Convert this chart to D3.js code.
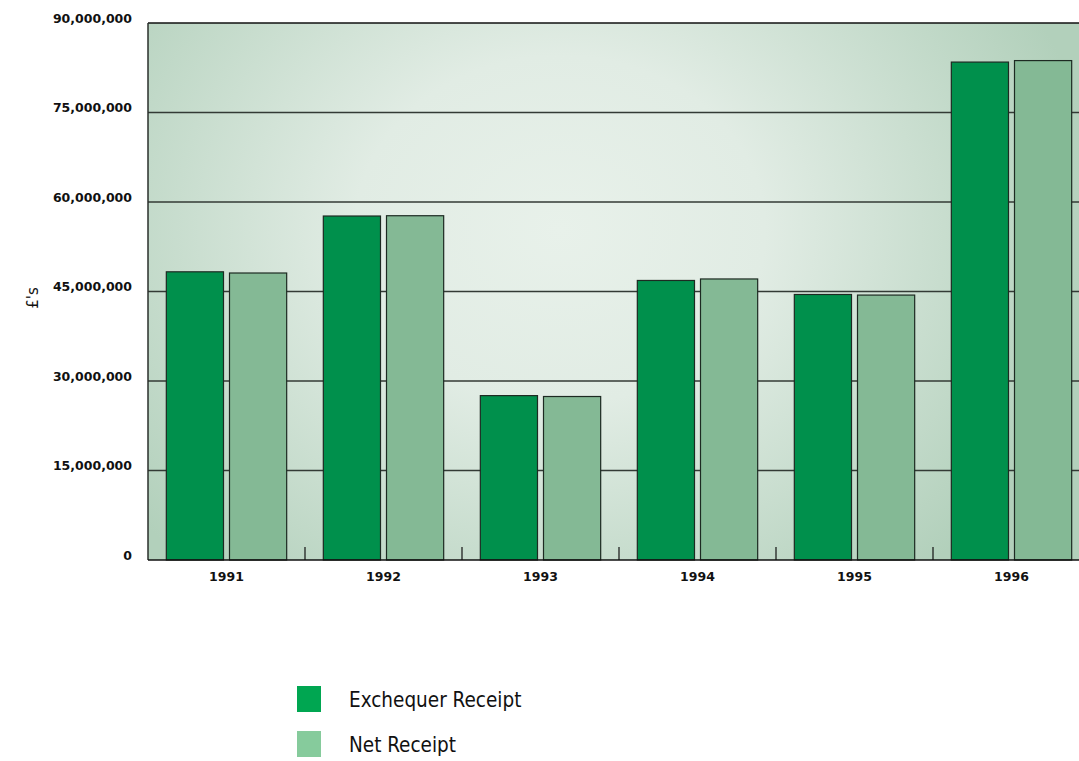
<!DOCTYPE html>
<html><head><meta charset="utf-8">
<script src="https://cdn.jsdelivr.net/npm/d3@7"></script>
<style>body{margin:0;background:#fff;}svg{display:block;}</style>
</head><body>
<svg id="chart" width="1079" height="761"></svg>
<script>
const years = ["1991","1992","1993","1994","1995","1996"];
const exchequer = [48300000, 57650000, 27550000, 46850000, 44500000, 83450000];
const netReceipt = [48100000, 57700000, 27400000, 47100000, 44400000, 83700000];
const yTicks = [0, 15000000, 30000000, 45000000, 60000000, 75000000, 90000000];
const seriesNames = ["Exchequer Receipt", "Net Receipt"];

const svg = d3.select("#chart");
const m = {left:148, top:23, right:1090, bottom:560};
const x = d3.scaleBand().domain(years).range([m.left, m.right]).paddingInner(0).paddingOuter(0);
const x1 = d3.scaleBand().domain(seriesNames).range([0, x.bandwidth()]).paddingInner(0.095).paddingOuter(0.29);
const y = d3.scaleLinear().domain([0, 90000000]).range([m.bottom, m.top]);

const defs = svg.append("defs");
const grad = defs.append("radialGradient").attr("id","bg")
  .attr("gradientUnits","userSpaceOnUse")
  .attr("cx",560).attr("cy",230).attr("r",540)
  .attr("gradientTransform","translate(560,230) scale(1,0.85) translate(-560,-230)");
grad.append("stop").attr("offset","0%").attr("stop-color","#e8f1ea");
grad.append("stop").attr("offset","38%").attr("stop-color","#e1ece4");
grad.append("stop").attr("offset","100%").attr("stop-color","#b2d0bb");

svg.append("rect").attr("x",m.left).attr("y",m.top).attr("width",m.right-m.left).attr("height",m.bottom-m.top).attr("fill","url(#bg)");

// gridlines
svg.append("g").selectAll("line").data(yTicks.filter(d=>d>0)).join("line")
  .attr("x1",m.left).attr("x2",m.right).attr("y1",d=>y(d)).attr("y2",d=>y(d))
  .attr("stroke", d=>d===90000000?"#111":"#333a35").attr("stroke-width",d=>d===90000000?1.5:1.3);

// bars
const data = years.map((yr,i)=>({yr, vals:[{s:seriesNames[0],v:exchequer[i]},{s:seriesNames[1],v:netReceipt[i]}]}));
const colors = {"Exchequer Receipt":"#00904c","Net Receipt":"#84b995"};
const g = svg.append("g").selectAll("g").data(data).join("g").attr("transform",d=>`translate(${x(d.yr)},0)`);
g.selectAll("rect").data(d=>d.vals).join("rect")
  .attr("x",d=>x1(d.s)).attr("width",x1.bandwidth())
  .attr("y",d=>y(d.v)).attr("height",d=>y(0)-y(d.v))
  .attr("fill",d=>colors[d.s]).attr("stroke","#1d2a22").attr("stroke-width",1.2);

// axes lines
svg.append("line").attr("x1",m.left).attr("x2",m.left).attr("y1",m.top).attr("y2",m.bottom).attr("stroke","#2a2f2b").attr("stroke-width",1.5);
svg.append("line").attr("x1",m.left).attr("x2",m.right).attr("y1",m.bottom).attr("y2",m.bottom).attr("stroke","#111").attr("stroke-width",1.5);

// x inner ticks at band boundaries
svg.append("g").selectAll("line").data(years.slice(1)).join("line")
  .attr("x1",d=>x(d)).attr("x2",d=>x(d)).attr("y1",m.bottom).attr("y2",m.bottom-13)
  .attr("stroke","#111").attr("stroke-width",1.2);

// x labels
const xAxis = d3.axisBottom(x).tickSize(0).tickPadding(12);
const xg = svg.append("g").attr("transform",`translate(0,${m.bottom})`).call(xAxis);
xg.select(".domain").remove();
xg.selectAll("text").attr("font-family","'DejaVu Sans', sans-serif").attr("font-weight","bold").attr("font-size",12.5).attr("fill","#111");

// y labels
const yAxis = d3.axisLeft(y).tickValues(yTicks).tickSize(0).tickPadding(16).tickFormat(d3.format(","));
const yg = svg.append("g").attr("transform",`translate(${m.left},0)`).call(yAxis);
yg.select(".domain").remove();
yg.selectAll("text").attr("font-family","'DejaVu Sans', sans-serif").attr("font-weight","bold").attr("font-size",12.5).attr("fill","#111").attr("dy","-0.05em");

// y title
svg.append("text").attr("transform","translate(38,298) rotate(-90)").attr("text-anchor","middle")
  .attr("font-family","'DejaVu Sans', sans-serif").attr("font-size",15).attr("fill","#111").text("£'s");

// legend
const legColors = ["#00a651","#86cb9c"];
const lg = svg.append("g").selectAll("g").data(seriesNames).join("g")
  .attr("transform",(d,i)=>`translate(297,${686+i*45})`);
lg.append("rect").attr("width",24).attr("height",26).attr("fill",(d,i)=>legColors[i]);
lg.append("text").attr("x",52).attr("y",21).attr("font-family","'DejaVu Sans Condensed','DejaVu Sans', sans-serif")
  .attr("font-size",20.5).attr("fill","#111").text(d=>d);
</script>
</body></html>
